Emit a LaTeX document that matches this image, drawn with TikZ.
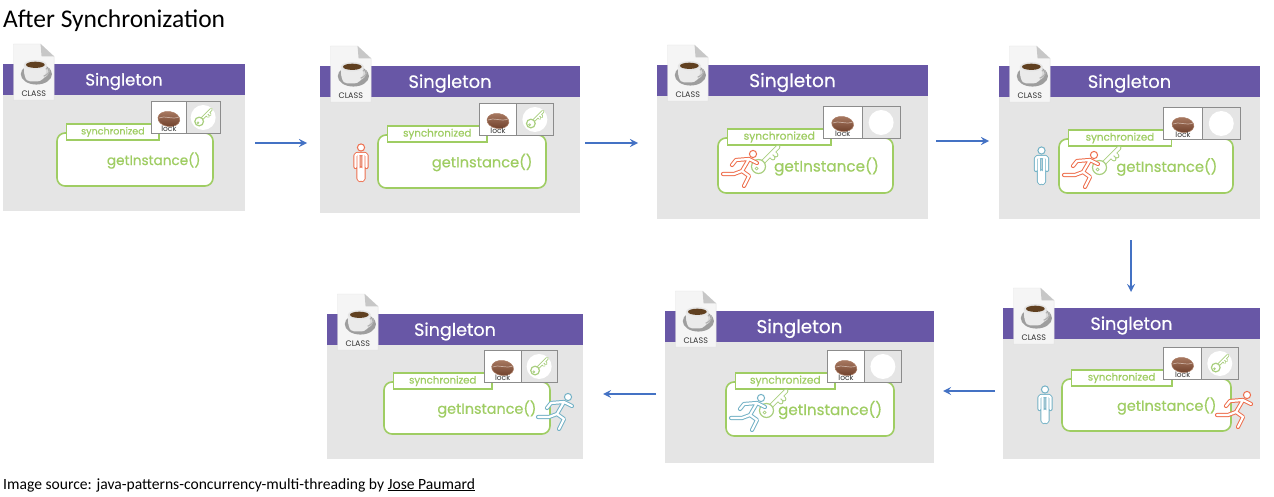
\documentclass[tikz,border=0pt]{standalone}
\usepackage{fontspec}
\setmainfont{Carlito}
\newfontfamily\slidefont[FakeBold=0.5]{Poppins}
\newfontfamily\iconfont{Poppins}
\usetikzlibrary{positioning}
\definecolor{panelgray}{HTML}{E5E5E5}
\definecolor{bandpurple}{HTML}{6857A6}
\definecolor{codegreen}{HTML}{9FCD63}
\definecolor{keygreen}{HTML}{A9CF7F}
\definecolor{figred}{HTML}{EE6F4E}
\definecolor{figblue}{HTML}{74B2C6}
\definecolor{flowblue}{HTML}{4472C4}
\definecolor{beandark}{HTML}{6E3F2A}
\definecolor{beanlight}{HTML}{A97A62}
\tikzset{
  panel/.style={fill=panelgray,anchor=north west,inner sep=0,outer sep=0},
  band/.style={fill=bandpurple,anchor=north west,inner sep=0,outer sep=0},
  codebox/.style={draw=codegreen,fill=white,line width=1.6pt,rounded corners=8pt,anchor=north west,inner sep=0,outer sep=0},
  tabbox/.style={draw=codegreen,fill=white,line width=1.8pt,text=codegreen,anchor=north west,inner sep=0,outer sep=0},
  lockcell/.style={draw=black!45,line width=.9pt,anchor=north west,inner sep=0,outer sep=0},
  figline/.style={draw=#1,double=white,double distance=2.2pt,line width=1pt,line cap=round,line join=round},
  keyline/.style={draw=keygreen,double=white,double distance=#1,line width=.9pt,line cap=round,line join=round},
  flow/.style={->,draw=flowblue,line width=2.5pt},
  pics/classdoc/.style={code={
    \draw[black!12,fill=black!4] (0,0) -- (26,0) -- (39,12) -- (39,54) -- (0,54) -- cycle;
    \fill[black!22] (26,0) -- (27,12) -- (39,12) -- cycle;
    \fill[black!38] (22,29) ellipse (15 and 10);
    \fill[black!15] (22,27) ellipse (12 and 7);
    \fill[black!8] (10,20) .. controls (10,38) and (14,36) .. (21,36) .. controls (28,36) and (31,34) .. (32,20) -- cycle;
    \draw[black!30,line width=1.2pt] (31,24) .. controls (37,22) and (36,28) .. (29,31);
    \fill[black!10] (21,20) ellipse (11 and 4.5);
    \fill[brown!50!black] (21,20) ellipse (9 and 3);
    \node[text=black!80,font=\iconfont\fontsize{8}{8}\selectfont] (-label) at (19.5,47.5) {CLASS};
  }},
  pics/bean/.style={code={
    \draw[beanlight,line width=.5pt,top color=beanlight,bottom color=beandark,rotate=-8] (0,0) ellipse (11 and 7.5);
    \draw[beanlight!60!white,line width=.7pt] (-10,-1) .. controls (-4,-4) and (3,1) .. (10,-2);
  }},
  pics/keyicon/.style={code={
    \draw[keyline=#1] (-4,4) -- (13,-13) (8,-8) -- (11,-5) (5,-5) -- (8,-2);
    \draw[keygreen,line width=1.2pt,fill=white] (-6.5,6.5) circle (7);
    \draw[keygreen,line width=.7pt] (-8.5,8.5) circle (1.5);
  }},
  pics/person/.style={code={
    \draw[#1,line width=1pt,fill=white] (0,-15.5) circle (3.6);
    \draw[figline=#1,rounded corners=1.5pt] (-5.5,4) -- (-5.5,-9) -- (5.5,-9) -- (5.5,4)
      (-2.5,-7) -- (-2.5,17) -- (0,17) -- (0,4) -- (0,17) -- (2.5,17) -- (2.5,-7);
  }},
  pics/runner/.style={code={
    \draw[#1,line width=1pt,fill=white] (14,-15) circle (3.6);
    \draw[figline=#1] (3,2) -- (10,-10) -- (18,-6)
      (10,-10) -- (-3,-9) -- (-7,-4)
      (3,2) -- (-5,5) -- (-16,5)
      (3,2) -- (10,7) -- (5,17);
  }},
}
% panel name, panel corners, code box corners
\newcommand{\slide}[9]{
  \pgfmathsetmacro\panelw{#4-#2}
  \pgfmathsetmacro\panelh{#5-#3}
  \pgfmathsetmacro\boxw{#8-#6}
  \pgfmathsetmacro\boxh{#9-#7}
  \pgfmathsetmacro\lockw{0.44*\boxw}
  \pgfmathsetmacro\lockx{#8+7-\lockw}
  \pgfmathsetmacro\tabw{\lockx+8-#6-9.5}
  \pgfmathsetmacro\titlesize{16.6*\panelw/242}
  \pgfmathsetmacro\callsize{13.6*\panelw/242}
  \pgfmathsetmacro\tabsize{9.6*\panelw/242}
  \node[panel,minimum width=\panelw pt,minimum height=\panelh pt] (#1) at (#2,#3) {};
  \node[band,minimum width=\panelw pt,minimum height=31pt] (#1band) at (#2,#3) {};
  \node[text=white,font=\slidefont\fontsize{\titlesize}{\titlesize}\selectfont] (#1name) at (#2+0.5*\panelw,#3+17.5) {Singleton};
  \pic[scale=1.04] (#1doc) at (#2+10.5,#3-20) {classdoc};
  \node[codebox,minimum width=\boxw pt,minimum height=\boxh pt] (#1code) at (#6,#7) {};
  \node[text=codegreen,font=\slidefont\fontsize{\callsize}{\callsize}\selectfont] (#1call) at (#6+0.62*\boxw,#7+0.5*\boxh+1) {getInstance()};
  \node[tabbox,minimum width=\tabw pt,minimum height=16pt,font=\slidefont\fontsize{\tabsize}{\tabsize}\selectfont] (#1tab) at (#6+9.5,#7-9) {\raisebox{-1pt}{synchronized}};
  \node[lockcell,fill=white,minimum width=0.51*\lockw pt,minimum height=32pt] (#1lock) at (\lockx,#7-31.5) {};
  \node[lockcell,fill=panelgray,minimum width=0.49*\lockw pt,minimum height=32pt] (#1cell) at (\lockx+0.51*\lockw,#7-31.5) {};
  \node[circle,fill=white,minimum size=25pt,inner sep=0] (#1slot) at (#1cell.center) {};
  \pic (#1coffee) at ([yshift=-1.5pt]#1lock.center) {bean};
  \node[text=black!80,font=\iconfont\fontsize{7.5}{7.5}\selectfont] (#1word) at ([yshift=-11.5pt]#1lock.center) {lock};
}

\begin{document}
\begin{tikzpicture}[x=1pt,y=-1pt,>=stealth]
    \useasboundingbox (0,0) rectangle (1274,497);

    \node[anchor=west,inner sep=0,font=\fontsize{25.5}{28}\selectfont] (title) at (3,20.5) {After Synchronization};
    \node[anchor=west,inner sep=0,font=\fontsize{15.6}{18}\selectfont] (source) at (3,485) {Image source: java-patterns-concurrency-multi-threading by $\underline{\hbox{Jose Paumard}}$};

    \slide{p1}{3}{64}{245}{211}{57}{133}{213}{186}
    \slide{p2}{320}{66}{580}{213}{378}{135}{546}{188}
    \slide{p3}{657}{65}{928}{219}{718}{138}{893}{193}
    \slide{p4}{999}{66}{1260}{219}{1059}{139}{1233}{193}
    \slide{p5}{1003}{308}{1260}{459}{1062}{379}{1231}{431}
    \slide{p6}{665}{311}{934}{463}{726}{382}{894}{436}
    \slide{p7}{327}{314}{583}{459}{384}{382}{550}{434}

    % keys still in their slot
    \pic[scale=0.62] at (p1slot) {keyicon=1.4pt};
    \pic[scale=0.62] at (p2slot) {keyicon=1.4pt};
    \pic[scale=0.62] at (p5slot) {keyicon=1.4pt};
    \pic[scale=0.62] at (p7slot) {keyicon=1.4pt};

    % keys taken
    \pic at (765,160) {keyicon=3pt};
    \pic at (1106,161) {keyicon=3pt};
    \pic at (773,404) {keyicon=3pt};

    \pic at (361,163) {person=figred};
    \pic at (1041.5,166) {person=figblue};
    \pic at (1045,405) {person=figblue};

    \pic at (739,169) {runner=figred};
    \pic at (1080,170) {runner=figred};
    \pic at (1233,410) {runner=figred};
    \pic at (747,413) {runner=figblue};
    \pic at (554,412) {runner=figblue};

    \draw[flow] ([shift={(10,5.5)}]p1.east) -- ([shift={(-13,3.5)}]p2.west);
    \draw[flow] ([shift={(5,3.5)}]p2.east) -- ([shift={(-19,1)}]p3.west);
    \draw[flow] ([shift={(8,-1)}]p3.east) -- ([shift={(-10,-1.5)}]p4.west);
    \draw[flow] ([xshift=1.5pt,yshift=-21pt]p4.south) -- ([xshift=-.5pt,yshift=16pt]p5.north);
    \draw[flow] ([shift={(-8,7.5)}]p5.west) -- ([shift={(9,4)}]p6.east);
    \draw[flow] ([shift={(-9,7)}]p6.west) -- ([shift={(20,7.5)}]p7.east);
\end{tikzpicture}
\end{document}
